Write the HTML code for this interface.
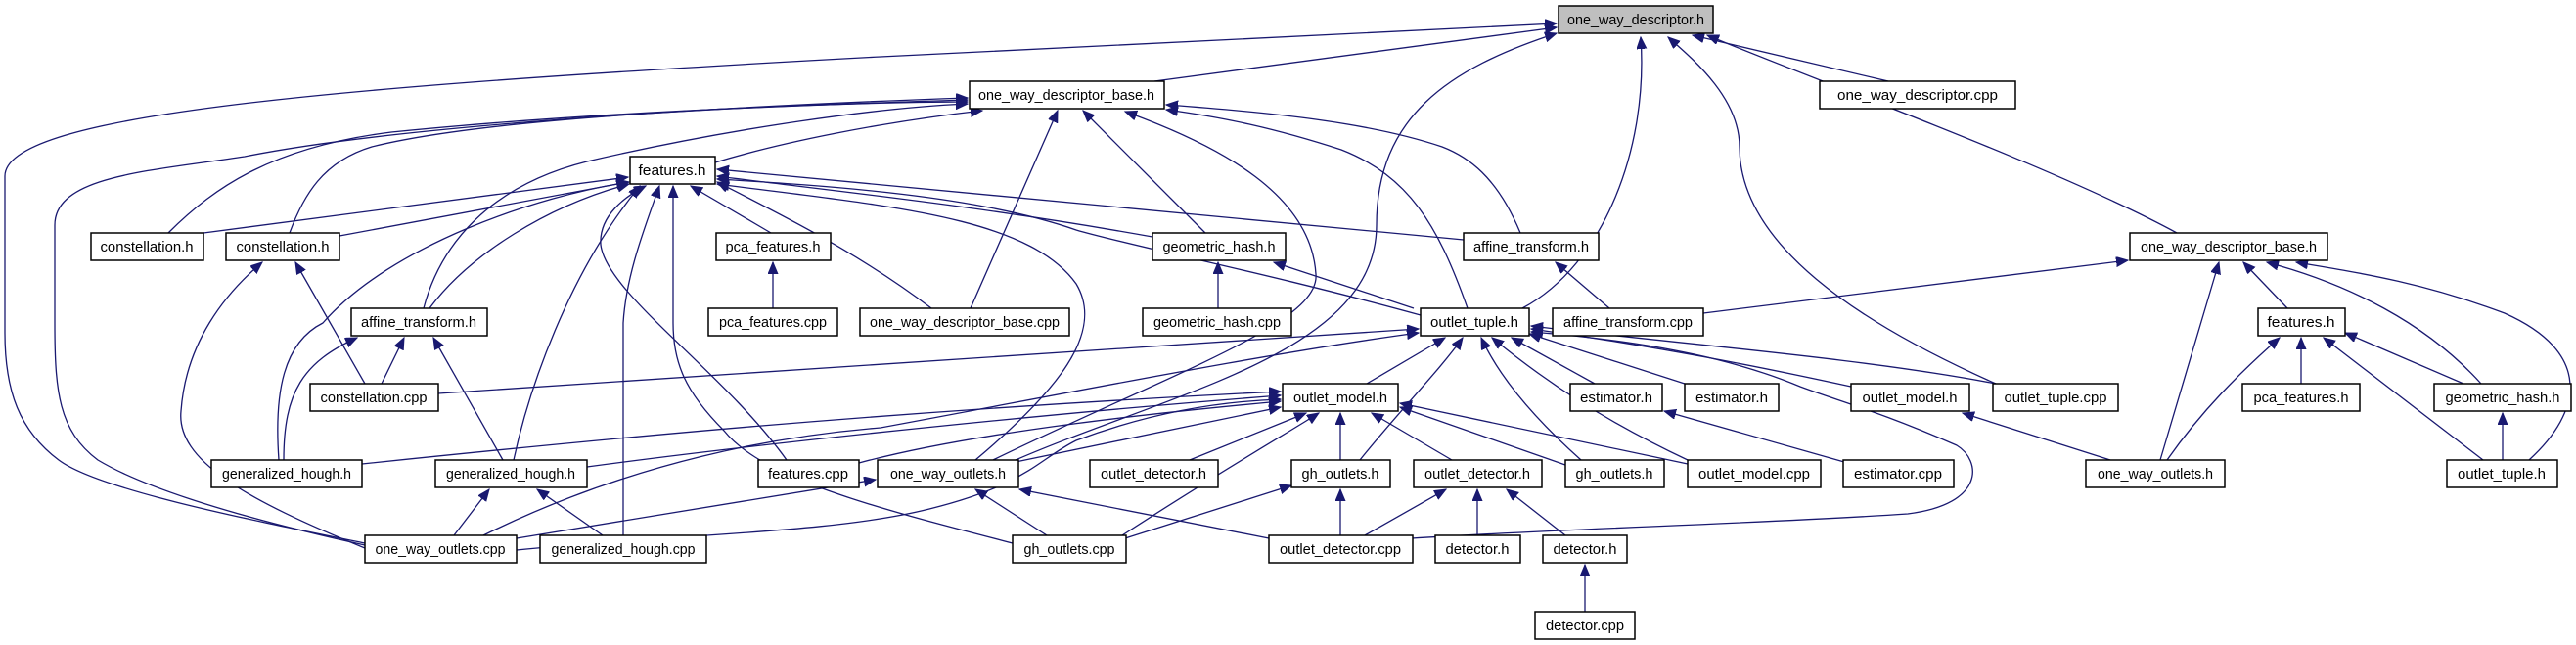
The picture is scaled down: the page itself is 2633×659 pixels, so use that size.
<!DOCTYPE html>
<html><head><meta charset="utf-8"><style>
html,body{margin:0;padding:0;background:#fff;}
svg{display:block}
.n rect{fill:#fff;stroke:#000;stroke-width:1.5}
.n text{font-family:"Liberation Sans",sans-serif;font-size:15px;text-anchor:middle;fill:#000}
.e path{fill:none;stroke:#191970;stroke-width:1.3;marker-end:url(#a)}
</style></head><body>
<svg width="2633" height="659" viewBox="0 0 2633 659" xmlns="http://www.w3.org/2000/svg">
<defs><marker id="a" markerUnits="userSpaceOnUse" markerWidth="14" markerHeight="12" refX="12" refY="5" orient="auto"><path d="M0,0 L12,5 L0,10 z" fill="#191970" stroke="#191970"/></marker></defs>
<g class="e">
<path d="M1180,83 L1591,28"/>
<path d="M1930,83 L1730,36"/>
<path d="M2225,238 C2100,170 1850,80 1745,36"/>
<path d="M1556,315 C1640,270 1685,150 1677,38"/>
<path d="M2040,392 C1900,330 1778,250 1778,150 C1778,100 1730,60 1705,38"/>
<path d="M1038,470 C1200,400 1407,360 1407,230 C1407,120 1480,70 1591,34"/>
<path d="M1015,470 C1200,380 1350,330 1345,280 C1340,200 1250,150 1150,114"/>
<path d="M373,555 C250,530 100,500 60,470 C20,440 5,400 5,340 L5,180 C5,120 300,90 900,58 L1591,24"/>
<path d="M373,557 C250,530 150,500 100,470 C60,440 56,400 56,330 L56,230 C56,180 150,175 250,160 C400,130 700,110 989,100"/>
<path d="M373,560 C250,510 180,470 185,420 C190,350 230,300 268,268"/>
<path d="M528,550 L895,490"/>
<path d="M494,547 C650,470 800,445 900,437 C1100,400 1300,360 1450,340"/>
<path d="M528,562 C700,545 850,545 950,520 C1050,495 1060,470 1100,450 C1180,420 1250,410 1309,408"/>
<path d="M731,166 C800,145 900,125 1004,113"/>
<path d="M172,238 C220,190 280,150 400,135 C600,115 800,108 989,102"/>
<path d="M296,238 C310,200 330,165 380,150 C500,120 800,105 989,104"/>
<path d="M433,315 C450,250 500,190 600,165 C750,130 900,110 989,106"/>
<path d="M992,315 L1081,113"/>
<path d="M1232,238 L1107,113"/>
<path d="M1500,315 C1470,230 1440,180 1371,153 C1300,130 1250,120 1192,112"/>
<path d="M1554,238 C1530,180 1500,160 1474,150 C1400,125 1300,115 1192,107"/>
<path d="M208,238 L642,181"/>
<path d="M347,241 L642,186"/>
<path d="M439,315 C480,260 560,210 643,188"/>
<path d="M285,470 C280,400 290,350 330,330 C400,250 550,200 643,186"/>
<path d="M290,470 C290,400 310,370 365,345"/>
<path d="M525,470 C540,400 580,280 654,190"/>
<path d="M514,470 L443,345"/>
<path d="M804,470 C740,380 620,300 614,250 C612,220 640,200 660,190"/>
<path d="M637,547 L637,330 C640,280 660,230 674,190"/>
<path d="M1035,555 C900,520 780,490 740,440 C700,400 688,370 688,330 L688,190"/>
<path d="M788,238 L706,190"/>
<path d="M952,315 C880,260 800,220 733,186"/>
<path d="M1178,242 C1000,210 850,195 733,180"/>
<path d="M1496,245 L733,173"/>
<path d="M1452,322 C1300,280 1150,250 1100,235 C1000,200 850,190 733,183"/>
<path d="M997,470 C1080,400 1130,340 1100,290 C1050,220 900,210 733,188"/>
<path d="M373,392 L302,268"/>
<path d="M390,392 L413,345"/>
<path d="M790,315 L790,268"/>
<path d="M1245,315 L1245,268"/>
<path d="M1445,315 L1302,268"/>
<path d="M1645,315 L1590,268"/>
<path d="M464,547 L500,500"/>
<path d="M616,547 L549,500"/>
<path d="M370,474 C600,450 900,420 1309,400"/>
<path d="M600,477 C800,450 1100,420 1309,404"/>
<path d="M878,473 C1000,440 1200,420 1309,410"/>
<path d="M448,402 L1450,336"/>
<path d="M1397,392 L1477,345"/>
<path d="M1390,470 C1430,420 1470,380 1495,345"/>
<path d="M1616,470 C1560,420 1530,380 1514,345"/>
<path d="M1725,470 C1640,430 1580,390 1525,345"/>
<path d="M1630,392 L1545,345"/>
<path d="M1722,392 L1563,341"/>
<path d="M1892,395 C1800,375 1700,355 1565,336"/>
<path d="M2040,392 C1900,365 1700,350 1565,333"/>
<path d="M1443,550 C1600,540 1800,535 1950,525 C2030,515 2025,470 2000,455 C1920,420 1880,410 1840,395 C1780,370 1700,350 1565,339"/>
<path d="M1038,472 L1309,416"/>
<path d="M1216,470 L1335,422"/>
<path d="M1370,470 L1370,422"/>
<path d="M1484,470 L1402,422"/>
<path d="M1600,475 L1431,416"/>
<path d="M1725,474 L1431,412"/>
<path d="M1147,547 C1250,480 1320,440 1348,422"/>
<path d="M1070,547 L997,500"/>
<path d="M1297,550 L1042,500"/>
<path d="M1150,550 L1320,496"/>
<path d="M1370,547 L1370,500"/>
<path d="M1395,547 L1478,500"/>
<path d="M1510,547 L1510,500"/>
<path d="M1600,547 L1540,500"/>
<path d="M1620,625 L1620,577"/>
<path d="M1885,472 L1701,420"/>
<path d="M2157,470 L2006,422"/>
<path d="M1741,320 L2175,266"/>
<path d="M2338,315 L2293,268"/>
<path d="M2536,392 C2480,330 2400,290 2317,268"/>
<path d="M2208,470 L2268,268"/>
<path d="M2585,470 C2640,420 2650,360 2560,320 C2480,290 2420,280 2347,268"/>
<path d="M2215,470 C2250,420 2290,380 2330,345"/>
<path d="M2352,392 L2352,345"/>
<path d="M2518,392 L2397,340"/>
<path d="M2538,470 L2375,345"/>
<path d="M2558,470 L2558,422"/>
</g>
<g class="n">
<rect x="1593" y="6" width="158" height="28" style="fill:#bfbfbf"/><text x="1672" y="25" textLength="140" lengthAdjust="spacingAndGlyphs">one_way_descriptor.h</text>
<rect x="1860" y="83" width="200" height="28"/><text x="1960" y="102" textLength="164" lengthAdjust="spacingAndGlyphs">one_way_descriptor.cpp</text>
<rect x="991" y="83" width="199" height="28"/><text x="1090" y="102" textLength="180" lengthAdjust="spacingAndGlyphs">one_way_descriptor_base.h</text>
<rect x="644" y="160" width="87" height="28"/><text x="687" y="179" textLength="69" lengthAdjust="spacingAndGlyphs">features.h</text>
<rect x="93" y="238" width="115" height="28"/><text x="150" y="257" textLength="95" lengthAdjust="spacingAndGlyphs">constellation.h</text>
<rect x="231" y="238" width="116" height="28"/><text x="289" y="257" textLength="95" lengthAdjust="spacingAndGlyphs">constellation.h</text>
<rect x="732" y="238" width="117" height="28"/><text x="790" y="257" textLength="97" lengthAdjust="spacingAndGlyphs">pca_features.h</text>
<rect x="1178" y="238" width="136" height="28"/><text x="1246" y="257" textLength="115" lengthAdjust="spacingAndGlyphs">geometric_hash.h</text>
<rect x="1496" y="238" width="138" height="28"/><text x="1565" y="257" textLength="118" lengthAdjust="spacingAndGlyphs">affine_transform.h</text>
<rect x="2177" y="238" width="202" height="28"/><text x="2278" y="257" textLength="180" lengthAdjust="spacingAndGlyphs">one_way_descriptor_base.h</text>
<rect x="359" y="315" width="139" height="28"/><text x="428" y="334" textLength="118" lengthAdjust="spacingAndGlyphs">affine_transform.h</text>
<rect x="724" y="315" width="132" height="28"/><text x="790" y="334" textLength="110" lengthAdjust="spacingAndGlyphs">pca_features.cpp</text>
<rect x="879" y="315" width="214" height="28"/><text x="986" y="334" textLength="194" lengthAdjust="spacingAndGlyphs">one_way_descriptor_base.cpp</text>
<rect x="1168" y="315" width="152" height="28"/><text x="1244" y="334" textLength="130" lengthAdjust="spacingAndGlyphs">geometric_hash.cpp</text>
<rect x="1452" y="315" width="111" height="28"/><text x="1507" y="334" textLength="90" lengthAdjust="spacingAndGlyphs">outlet_tuple.h</text>
<rect x="1587" y="315" width="154" height="28"/><text x="1664" y="334" textLength="132" lengthAdjust="spacingAndGlyphs">affine_transform.cpp</text>
<rect x="2308" y="315" width="89" height="28"/><text x="2352" y="334" textLength="69" lengthAdjust="spacingAndGlyphs">features.h</text>
<rect x="317" y="392" width="131" height="28"/><text x="382" y="411" textLength="109" lengthAdjust="spacingAndGlyphs">constellation.cpp</text>
<rect x="1311" y="392" width="118" height="28"/><text x="1370" y="411" textLength="96" lengthAdjust="spacingAndGlyphs">outlet_model.h</text>
<rect x="1605" y="392" width="94" height="28"/><text x="1652" y="411" textLength="74" lengthAdjust="spacingAndGlyphs">estimator.h</text>
<rect x="1722" y="392" width="96" height="28"/><text x="1770" y="411" textLength="74" lengthAdjust="spacingAndGlyphs">estimator.h</text>
<rect x="1892" y="392" width="121" height="28"/><text x="1952" y="411" textLength="97" lengthAdjust="spacingAndGlyphs">outlet_model.h</text>
<rect x="2037" y="392" width="128" height="28"/><text x="2101" y="411" textLength="105" lengthAdjust="spacingAndGlyphs">outlet_tuple.cpp</text>
<rect x="2292" y="392" width="120" height="28"/><text x="2352" y="411" textLength="97" lengthAdjust="spacingAndGlyphs">pca_features.h</text>
<rect x="2488" y="392" width="140" height="28"/><text x="2558" y="411" textLength="117" lengthAdjust="spacingAndGlyphs">geometric_hash.h</text>
<rect x="216" y="470" width="154" height="28"/><text x="293" y="489" textLength="132" lengthAdjust="spacingAndGlyphs">generalized_hough.h</text>
<rect x="445" y="470" width="155" height="28"/><text x="522" y="489" textLength="132" lengthAdjust="spacingAndGlyphs">generalized_hough.h</text>
<rect x="775" y="470" width="103" height="28"/><text x="826" y="489" textLength="82" lengthAdjust="spacingAndGlyphs">features.cpp</text>
<rect x="897" y="470" width="144" height="28"/><text x="969" y="489" textLength="118" lengthAdjust="spacingAndGlyphs">one_way_outlets.h</text>
<rect x="1114" y="470" width="131" height="28"/><text x="1179" y="489" textLength="108" lengthAdjust="spacingAndGlyphs">outlet_detector.h</text>
<rect x="1320" y="470" width="101" height="28"/><text x="1370" y="489" textLength="79" lengthAdjust="spacingAndGlyphs">gh_outlets.h</text>
<rect x="1445" y="470" width="131" height="28"/><text x="1510" y="489" textLength="108" lengthAdjust="spacingAndGlyphs">outlet_detector.h</text>
<rect x="1600" y="470" width="101" height="28"/><text x="1650" y="489" textLength="79" lengthAdjust="spacingAndGlyphs">gh_outlets.h</text>
<rect x="1725" y="470" width="136" height="28"/><text x="1793" y="489" textLength="114" lengthAdjust="spacingAndGlyphs">outlet_model.cpp</text>
<rect x="1884" y="470" width="113" height="28"/><text x="1940" y="489" textLength="90" lengthAdjust="spacingAndGlyphs">estimator.cpp</text>
<rect x="2132" y="470" width="142" height="28"/><text x="2203" y="489" textLength="118" lengthAdjust="spacingAndGlyphs">one_way_outlets.h</text>
<rect x="2501" y="470" width="113" height="28"/><text x="2557" y="489" textLength="90" lengthAdjust="spacingAndGlyphs">outlet_tuple.h</text>
<rect x="373" y="547" width="155" height="28"/><text x="450" y="566" textLength="133" lengthAdjust="spacingAndGlyphs">one_way_outlets.cpp</text>
<rect x="552" y="547" width="170" height="28"/><text x="637" y="566" textLength="147" lengthAdjust="spacingAndGlyphs">generalized_hough.cpp</text>
<rect x="1035" y="547" width="116" height="28"/><text x="1093" y="566" textLength="93" lengthAdjust="spacingAndGlyphs">gh_outlets.cpp</text>
<rect x="1297" y="547" width="147" height="28"/><text x="1370" y="566" textLength="124" lengthAdjust="spacingAndGlyphs">outlet_detector.cpp</text>
<rect x="1467" y="547" width="87" height="28"/><text x="1510" y="566" textLength="65" lengthAdjust="spacingAndGlyphs">detector.h</text>
<rect x="1577" y="547" width="86" height="28"/><text x="1620" y="566" textLength="65" lengthAdjust="spacingAndGlyphs">detector.h</text>
<rect x="1569" y="625" width="102" height="28"/><text x="1620" y="644" textLength="80" lengthAdjust="spacingAndGlyphs">detector.cpp</text>
</g>
</svg>
</body></html>
